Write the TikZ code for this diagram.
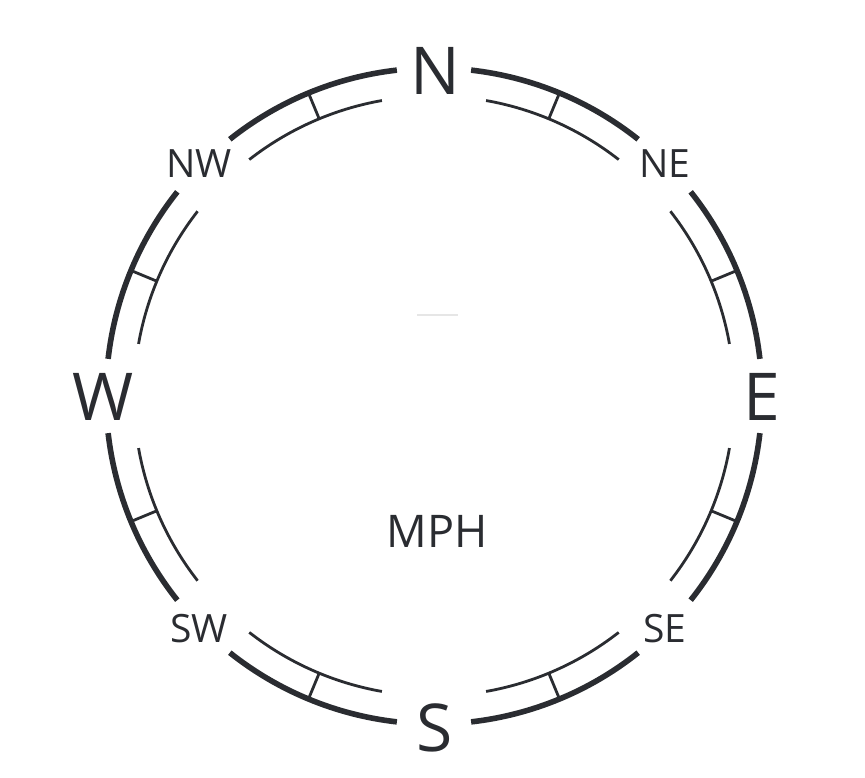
\documentclass[tikz,border=0pt]{standalone}
\usepackage{fontspec}
\setmainfont{Open Sans}
\definecolor{ink}{HTML}{2A2C31}
\definecolor{faint}{HTML}{E6E6E6}
\begin{document}
\begin{tikzpicture}[x=1pt,y=1pt,
 outerarc/.style={line width=5.6pt, draw=ink},
 innerarc/.style={line width=2.8pt, draw=ink},
 tickline/.style={line width=2.8pt, draw=ink},
 biglabel/.style={text=ink, font=\fontsize{66}{66}\selectfont, inner sep=0pt},
 smalllabel/.style={text=ink, font=\fontsize{39}{39}\selectfont, inner sep=0pt},
 unitlabel/.style={text=ink, font=\fontsize{45}{45}\selectfont, inner sep=0pt}]
\useasboundingbox (-434,-382) rectangle (431,396);
\coordinate (c) at (0,0);
\foreach \k in {0,...,7} {
  \pgfmathsetmacro\a{90-45*\k}
  \pgfmathsetmacro\oa{\a-6.5}
  \pgfmathsetmacro\ob{\a-45+6.5}
  \pgfmathsetmacro\ia{\a-(mod(\k,2)==0 ? 10 : 7)}
  \pgfmathsetmacro\ib{\a-45+(mod(\k,2)==0 ? 7 : 10)}
  \pgfmathsetmacro\t{\a-22.5}
  \draw[outerarc] (c) ++(\oa:328) arc[start angle=\oa, end angle=\ob, radius=328];
  \draw[innerarc] (c) ++(\ia:300) arc[start angle=\ia, end angle=\ib, radius=300];
  \draw[tickline] (c) ++(\t:300) -- ++(\t:28);
}
\node[biglabel] (n) at (1,325) {N};
\node[biglabel] (e) at (328,-1) {E};
\node[biglabel] (s) at (1,-332) {S};
\node[biglabel] (w) at (-331,-1) {W};
\node[smalllabel] (ne) at (231,232) {NE};
\node[smalllabel] (nw) at (-235,232) {NW};
\node[smalllabel] (se) at (231,-233) {SE};
\node[smalllabel] (sw) at (-235,-233) {SW};
\node[unitlabel] (mph) at (3,-135) {MPH};
\draw[faint, line width=1.5pt] (-17,81) -- (24,81);
\end{tikzpicture}
\end{document}
